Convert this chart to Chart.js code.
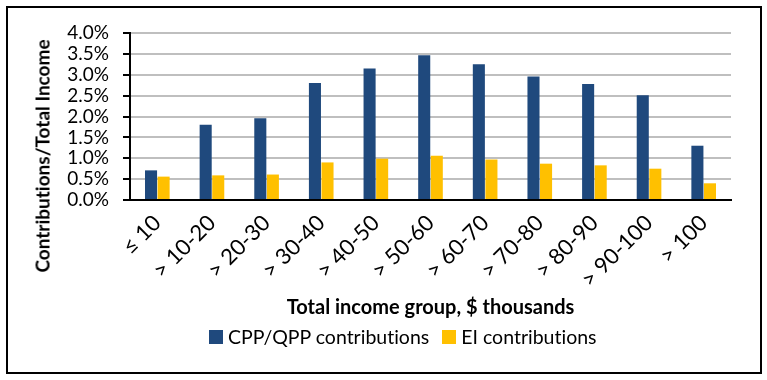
<!DOCTYPE html>
<html>
<head>
<meta charset="utf-8">
<script src="https://cdn.jsdelivr.net/npm/chart.js@4/dist/chart.umd.min.js"></script>
<style>
  html, body { margin: 0; padding: 0; background: #fff; }
  #wrap { position: relative; width: 767px; height: 380px; overflow: hidden; background: #fff; font-family: Lato, "Open Sans", sans-serif; font-variant-ligatures: none; }
  #frame { position: absolute; left: 6px; top: 6px; width: 756px; height: 368px; box-sizing: border-box; border: 2px solid #000; }
  #c { position: absolute; left: 0; top: 0; }
  #ytitle { position: absolute; left: 42px; top: 156px; width: 320px; text-align: center; font-weight: bold; font-size: 19px; color: #000; transform: translate(-50%, -50%) rotate(-90deg); white-space: nowrap; }
  #legend { position: absolute; left: 209px; top: 325px; display: flex; gap: 13px; font-size: 19.5px; color: #000; white-space: nowrap; }
  .item { display: flex; align-items: center; }
  .sw { width: 14px; height: 14px; margin-right: 5px; }
</style>
</head>
<body>
<div id="wrap">
  <div id="frame"></div>
  <canvas id="c" width="767" height="380"></canvas>
  <div id="ytitle"></div>
  <div id="legend"></div>
</div>
<script>
const categories = ['≤ 10', '> 10-20', '> 20-30', '> 30-40', '> 40-50', '> 50-60', '> 60-70', '> 70-80', '> 80-90', '> 90-100', '> 100'];
const cppValues = [0.71, 1.80, 1.96, 2.80, 3.15, 3.47, 3.25, 2.96, 2.78, 2.51, 1.30];
const eiValues = [0.56, 0.59, 0.61, 0.90, 0.99, 1.06, 0.97, 0.87, 0.83, 0.75, 0.40];
const seriesNames = ['CPP/QPP contributions', 'EI contributions'];
const seriesColors = ['#1F497D', '#FFC000'];
const yAxisTitle = 'Contributions/Total Income';
const xAxisTitle = 'Total income group, $ thousands';
const yMin = 0, yMax = 4, yStep = 0.5;

const chart = new Chart(document.getElementById('c'), {
  type: 'bar',
  data: {
    labels: categories,
    datasets: [
      { label: seriesNames[0], data: cppValues, backgroundColor: seriesColors[0], borderWidth: 0 },
      { label: seriesNames[1], data: eiValues, backgroundColor: seriesColors[1], borderWidth: 0 }
    ]
  },
  options: {
    responsive: false,
    devicePixelRatio: 1,
    animation: false,
    events: [],
    datasets: { bar: { categoryPercentage: 0.46, barPercentage: 0.96 } },
    layout: { padding: { left: 0, right: 36, top: 33, bottom: 60 } },
    plugins: { legend: { display: false }, tooltip: { enabled: false } },
    scales: {
      x: {
        grid: { display: false, drawTicks: false },
        border: { display: true, color: '#000', width: 2 },
        ticks: { color: '#000', font: { family: 'Lato', size: 22 }, minRotation: 45, maxRotation: 45, padding: 10, autoSkip: false },
        title: { display: true, text: xAxisTitle, color: '#000', font: { family: 'Lato', size: 20, weight: 'bold' }, padding: 0 },
        afterFit: (s) => { s.height = 120; }
      },
      y: {
        min: yMin, max: yMax,
        grid: { color: '#BFBFBF', lineWidth: 2, tickColor: '#000', tickLength: 7, tickWidth: 2 },
        border: { display: true, color: '#000', width: 2 },
        ticks: { stepSize: yStep, autoSkip: false, color: '#000', font: { family: 'Lato', size: 19, lineHeight: 1 }, padding: 14, callback: (v) => Number(v).toFixed(1) + '%' },
        afterFit: (s) => { s.width = 130; }
      }
    }
  }
});

document.getElementById('ytitle').textContent = yAxisTitle;
const leg = document.getElementById('legend');
chart.data.datasets.forEach((ds) => {
  const it = document.createElement('div'); it.className = 'item';
  const sw = document.createElement('span'); sw.className = 'sw'; sw.style.background = ds.backgroundColor;
  const tx = document.createElement('span'); tx.textContent = ds.label;
  it.appendChild(sw); it.appendChild(tx); leg.appendChild(it);
});
</script>
</body>
</html>
